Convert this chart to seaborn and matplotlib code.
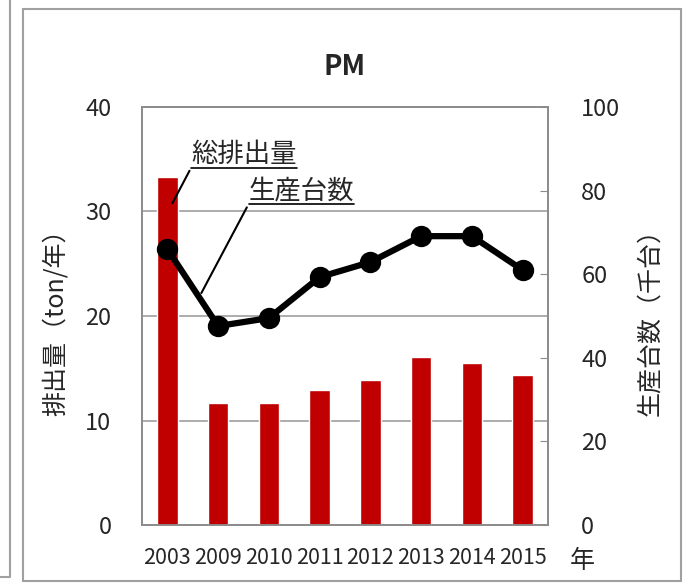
# PM 排出量と生産台数の推移
import matplotlib.pyplot as plt
from matplotlib.lines import Line2D
from matplotlib.patches import Rectangle
from matplotlib.text import Text
import seaborn as sns
import pandas as pd

sns.set_style("white")
plt.rcParams['font.family'] = ['Noto Sans CJK JP', 'DejaVu Sans']

# -------------------- データ --------------------
years = ['2003', '2009', '2010', '2011', '2012', '2013', '2014', '2015']
emission = [33.3, 11.7, 11.7, 12.9, 13.9, 16.1, 15.5, 14.4]   # 排出量 (ton/年)
production = [66.0, 47.6, 49.5, 59.3, 62.9, 69.1, 69.1, 61.0]  # 生産台数 (千台)

df = pd.DataFrame({'year': years, 'emission': emission, 'production': production})

W, H = 683, 584
fig = plt.figure(figsize=(W / 100, H / 100), dpi=100)
ax1 = fig.add_axes([142 / W, 1 - 525 / H, 406 / W, 418 / H])
ax2 = ax1.twinx()

grid_c = '#A6A6A6'
spine_c = '#8C8C8C'

# 棒グラフ：総排出量
sns.barplot(data=df, x='year', y='emission', color='#C00000', width=0.4,
            saturation=1, ax=ax1, zorder=3)
ax1.set_ylim(0, 40)
ax1.set_yticks([0, 10, 20, 30, 40])
ax1.set_xlim(-0.5, 7.5)
ax1.yaxis.grid(True, color=grid_c, linewidth=1.3)
ax1.set_axisbelow(True)

# 折れ線：生産台数
sns.pointplot(data=df, x='year', y='production', color='black', ax=ax2,
              markers='o', markersize=12, linewidth=4.5)
ax2.set_ylim(0, 100)
ax2.set_yticks([0, 20, 40, 60, 80, 100])
ax2.set_xlim(-0.5, 7.5)

for ax in (ax1, ax2):
    for s in ax.spines.values():
        s.set_color(spine_c)
        s.set_linewidth(1.3)

# 軸ラベル・目盛
ax1.set_xlabel('')
ax1.set_ylabel('排出量（ton/年）', fontsize=18, labelpad=12)
ax2.set_ylabel('生産台数（千台）', fontsize=18, labelpad=12, rotation=90)
ax1.tick_params(axis='y', length=0, pad=22, labelsize=17)
ax2.tick_params(axis='y', direction='in', length=6, color=spine_c, pad=24, labelsize=17)
ax1.tick_params(axis='x', which='major', length=0, pad=16, labelsize=15.5)
ax1.set_xticks([i - 0.5 for i in range(9)], minor=True)
ax1.tick_params(axis='x', which='minor', length=6, color=spine_c, width=1.3)
ax2.tick_params(axis='x', length=0)

ax1.set_title('PM', fontsize=20, fontweight='bold', pad=23)
ax1.text(1.085, -0.085, '年', transform=ax1.transAxes, fontsize=18,
         ha='center', va='center')

# 注釈（下線付き）
t1 = ax1.annotate('総排出量', xy=(0.1, 30.8), xytext=(0.47, 35.5),
                  fontsize=19, va='center', ha='left',
                  arrowprops=dict(arrowstyle='-', color='black', lw=1.5,
                                  shrinkA=0, shrinkB=0, relpos=(0, 0)))
t2 = ax1.annotate('生産台数', xy=(0.67, 22.2), xytext=(1.6, 32.0),
                  fontsize=19, va='center', ha='left',
                  arrowprops=dict(arrowstyle='-', color='black', lw=1.5,
                                  shrinkA=0, shrinkB=0, relpos=(0, 0)))

fig.canvas.draw()
inv = fig.transFigure.inverted()
for t in (t1, t2):
    bb = Text.get_window_extent(t).transformed(inv)
    fig.add_artist(Line2D([bb.x0, bb.x1], [bb.y0, bb.y0], color='black', lw=1.2))

# 枠線
fig.add_artist(Rectangle((23 / W, 1 - 581 / H), 658 / W, 572 / H, fill=False,
                         edgecolor='#A0A0A0', lw=1.5, transform=fig.transFigure))
fig.add_artist(Line2D([10 / W, 10 / W, 0], [1, 1 - 577 / H, 1 - 577 / H],
                      color='#A0A0A0', lw=1.5))

fig.savefig('out.png', dpi=100)
